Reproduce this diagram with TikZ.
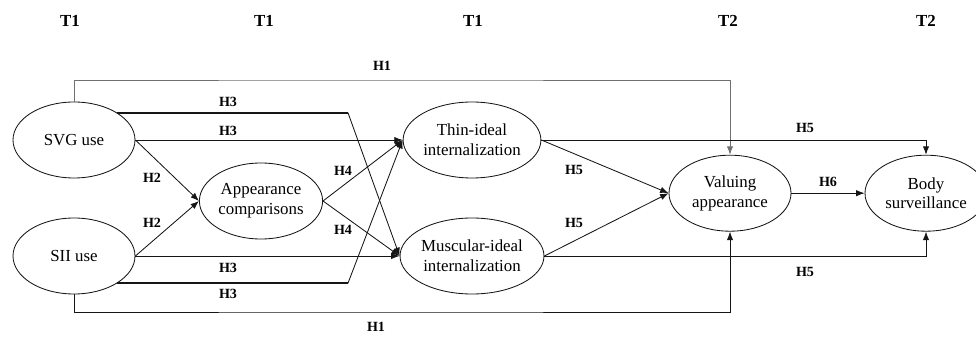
\documentclass[tikz,border=0pt]{standalone}
\usepackage{fontspec}
\setmainfont{Liberation Serif}
\definecolor{ink}{HTML}{151515}
\definecolor{linegray}{HTML}{707070}
\usetikzlibrary{shapes.geometric,arrows.meta,positioning,calc}

\begin{document}
\begin{tikzpicture}[
  construct/.style={draw=ink,line width=0.6pt,ellipse,minimum width=3.05cm,minimum height=1.9cm,inner sep=0pt,align=center,font=\fontsize{12}{14}\selectfont},
  hyp/.style={font=\bfseries\fontsize{10}{12}\selectfont},
  wave/.style={font=\bfseries\fontsize{12}{14}\selectfont},
  link/.style={draw=ink,line width=0.6pt,-{Latex[length=6pt,width=4.5pt]}},
  heavy/.style={draw=ink,line width=1.4pt}]
  \useasboundingbox (0,0) rectangle (24.4,8.4);
  \node[wave] (t1a) at (1.75,7.875) {T1};
  \node[wave] (t1b) at (6.6,7.875) {T1};
  \node[wave] (t1c) at (11.825,7.875) {T1};
  \node[wave] (t2a) at (18.2,7.875) {T2};
  \node[wave] (t2b) at (23.15,7.875) {T2};
  \node[construct] (svg) at (1.85,4.9) {SVG use};
  \node[construct] (sii) at (1.85,2.0) {SII use};
  \node[construct,minimum width=3.08cm] (app) at (6.525,3.375) {Appearance\\comparisons};
  \node[construct,minimum width=3.15cm] (thin) at (11.8,4.9) {Thin-ideal\\internalization};
  \node[construct,minimum width=3.15cm] (musc) at (11.8,2.0) {Muscular-ideal\\internalization};
  \node[construct] (val) at (18.25,3.57) {Valuing\\appearance};
  \node[construct] (body) at (23.15,3.57) {Body\\surveillance};
  \coordinate (hitop) at (9.0,6.4);
  \coordinate (hibot) at (9.0,0.6);
  \coordinate (bendx) at (8.7,0);
  \draw[link,linegray] (svg.north) |- (hitop) -| (val.north);
  \draw[link] (sii.south) |- (hibot) -| (val.south);
  \draw[heavy] (svg.north east) -- (svg.north east -| bendx);
  \draw[link] (svg.north east -| bendx) -- (musc.west);
  \draw[heavy] (sii.south east) -- (sii.south east -| bendx);
  \draw[link] (sii.south east -| bendx) -- (thin.west);
  \draw[link] (svg.east) -- (thin.west);
  \draw[link] (sii.east) -- (musc.west);
  \draw[link] (svg.east) -- (app.west);
  \draw[link] (sii.east) -- (app.west);
  \draw[link] (app.east) -- (thin.west);
  \draw[link] (app.east) -- (musc.west);
  \draw[link] (thin.east) -- (val.west);
  \draw[link] (musc.east) -- (val.west);
  \draw[link] (thin.east) -| (body.north);
  \draw[link] (musc.east) -| (body.south);
  \draw[link] (val.east) -- (body.west);
  \node[hyp] (h1a) at (9.55,6.75) {H1};
  \node[hyp] (h1b) at (9.4,0.225) {H1};
  \node[hyp] (h3a) at (5.7,5.85) {H3};
  \node[hyp] (h3b) at (5.7,5.125) {H3};
  \node[hyp] (h3c) at (5.7,1.7) {H3};
  \node[hyp] (h3d) at (5.7,1.05) {H3};
  \node[hyp] (h2a) at (3.8,3.95) {H2};
  \node[hyp] (h2b) at (3.8,2.825) {H2};
  \node[hyp] (h4a) at (8.575,4.125) {H4};
  \node[hyp] (h4b) at (8.575,2.65) {H4};
  \node[hyp] (h5a) at (14.35,4.15) {H5};
  \node[hyp] (h5b) at (14.35,2.825) {H5};
  \node[hyp] (h5c) at (20.125,5.2) {H5};
  \node[hyp] (h5d) at (20.125,1.6) {H5};
  \node[hyp] (h6) at (20.7,3.85) {H6};
\end{tikzpicture}
\end{document}
